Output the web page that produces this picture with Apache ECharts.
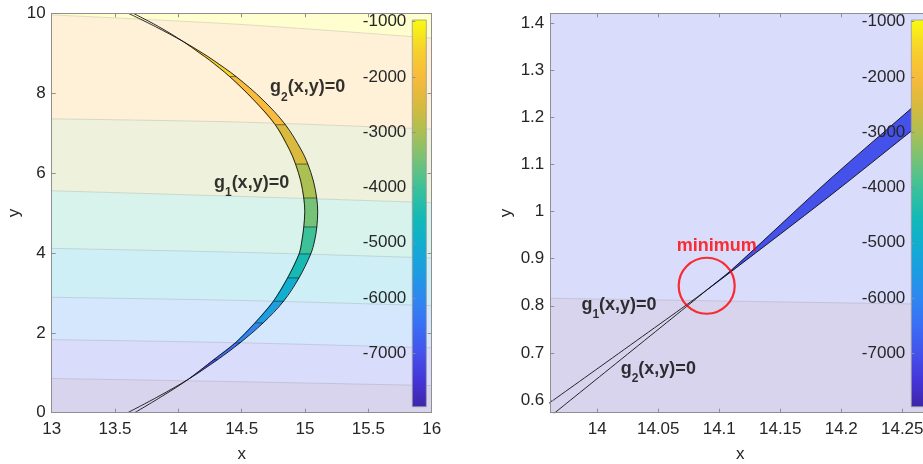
<!DOCTYPE html>
<html><head><meta charset="utf-8">
<script src="https://cdn.jsdelivr.net/npm/echarts@6/dist/echarts.min.js"></script>
<style>html,body{margin:0;padding:0;background:#fff}#c{width:923px;height:464px}</style>
</head><body><div id="c"></div>
<script>
// ---------------- DATA ----------------
// colour-bar
const cbRange = [-7966, -969];
const cbTicks = [-7000, -6000, -5000, -4000, -3000, -2000, -1000];
// left panel ticks
const leftXTicks = [13, 13.5, 14, 14.5, 15, 15.5, 16];
const leftYTicks = [0, 2, 4, 6, 8, 10];
// right panel ticks
const rightXTicks = [14, 14.05, 14.1, 14.15, 14.2, 14.25];
const rightYTicks = [0.6, 0.7, 0.8, 0.9, 1, 1.1, 1.2, 1.3, 1.4];
// left panel constraint curves, sampled along y
const curveY = [10, 9.665, 9.29, 9.0, 8.83, 8.415, 7.83, 7.21, 6.58, 6.225, 5.8, 5.375, 5.04, 4.65, 4.3, 3.975, 3.375, 2.79, 2.25, 1.75, 1.33, 0.84, 0.415, 0];
const g1X = [13.605, 13.82, 14.04, 14.192, 14.274, 14.456, 14.668, 14.845, 14.97, 15.022, 15.066, 15.092, 15.10, 15.093, 15.075, 15.045, 14.952, 14.83, 14.67, 14.487, 14.31, 14.08, 13.847, 13.600];
const g2X = [13.644, 13.845, 14.04, 14.17, 14.245, 14.405, 14.595, 14.765, 14.878, 14.925, 14.966, 14.99, 14.998, 14.99, 14.975, 14.953, 14.862, 14.75, 14.605, 14.45, 14.28, 14.08, 13.873, 13.655];
// feasible lens: divider y values and objective level of each piece
const lensDiv = [9.29, 8.415, 7.21, 6.225, 5.375, 4.65, 3.975, 3.375, 2.79, 2.25, 1.75, 1.33, 0.84];
const lensLevel = [-1500, -2000, -2500, -3000, -3500, -4000, -4500, -5000, -5500, -6000, -6500, -7000];
// left background contour lines (levels and y at bgX)
const bgX = [13, 14.5, 16];
const bgLevels = [-1000, -2000, -3000, -4000, -5000, -6000, -7000];
const bgY = [
  [9.96, 9.72, 9.38],
  [7.357, 7.275, 7.10],
  [5.557, 5.415, 5.258],
  [4.115, 4.015, 3.875],
  [2.89, 2.81, 2.68],
  [1.83, 1.75, 1.625],
  [0.857, 0.775, 0.68]
];
// right panel (zoom) curves
const rG1X = [13.955, 14.073, 14.09, 14.11, 14.19, 14.2574, 14.28];
const rG1Y = [0.583, 0.8017, 0.834, 0.873, 1.032, 1.171, 1.218];
const rG2X = [13.96, 14.073, 14.09, 14.11, 14.19, 14.2574, 14.28];
const rG2Y = [0.562, 0.798, 0.834, 0.876, 1.067, 1.219, 1.271];
const rCrossX = 14.09;
const rFillLevel = -7000;
const rBgX = [13.9615, 14.28];
const rBgY = [0.816, 0.803];
const rBgLevel = -7000;
// annotations
const leftLabels = [{sub: '2', x: 14.7234, y: 8.098}, {sub: '1', x: 14.281, y: 5.705}];
const rightLabels = [{sub: '1', x: 13.987, y: 0.798}, {sub: '2', x: 14.0192, y: 0.6622}];
const minText = 'minimum';
const minLabelPos = [14.098, 0.926];
const minCircle = [14.0897, 0.8425];

// ---------------- STYLE ----------------
const FONT = "'Liberation Sans', Arial, Helvetica, sans-serif";
const AXIS_COLOR = '#8f8f8f';
const TEXT_COLOR = '#262626';
const PARULA = [[0,'#3E26A8'],[0.07,'#4535D8'],[0.137,'#4451EA'],[0.21,'#3A6EF5'],[0.28,'#2E87F0'],[0.35,'#1C9DE2'],[0.423,'#10AED0'],[0.49,'#13BAB5'],[0.566,'#3CC199'],[0.64,'#77C276'],[0.709,'#ACBF52'],[0.78,'#D8BA3E'],[0.851,'#F8BA3C'],[0.92,'#F6D02C'],[1,'#F9FB0E']];
function hex2rgb(h){return [parseInt(h.substr(1,2),16),parseInt(h.substr(3,2),16),parseInt(h.substr(5,2),16)];}
function cmapRGB(v){
  let t=(v-cbRange[0])/(cbRange[1]-cbRange[0]); t=Math.max(0,Math.min(1,t));
  for(let i=0;i<PARULA.length-1;i++){
    const [t0,c0]=PARULA[i],[t1,c1]=PARULA[i+1];
    if(t<=t1){const f=(t-t0)/(t1-t0);const a=hex2rgb(c0),b=hex2rgb(c1);return a.map((x,k)=>x+(b[k]-x)*f);}
  }
  return hex2rgb(PARULA[PARULA.length-1][1]);
}
function rgbStr(c){return 'rgb('+c.map(x=>Math.round(x)).join(',')+')';}
function cmap(v){return rgbStr(cmapRGB(v));}
function tint(v){return rgbStr(cmapRGB(v).map(x=>255*0.8+x*0.2));}
const fmt = v => String(+(+v).toFixed(3));

function mainX(grid, min, max, ticks, pos, showLabel, name){
  return {type:'value', gridIndex:grid, position:pos, min:min, max:max, z:10,
    axisLine:{show:true, onZero:false, lineStyle:{color:AXIS_COLOR, width:1}},
    axisTick:{show:true, inside:true, length:4, lineStyle:{color:AXIS_COLOR}, customValues:ticks},
    axisLabel:{show:showLabel, customValues:ticks, formatter:fmt, color:TEXT_COLOR, fontSize:17, fontFamily:FONT, margin:8, showMinLabel:true, showMaxLabel:true},
    splitLine:{show:false},
    name: showLabel ? name : '', nameLocation:'middle', nameGap:33,
    nameTextStyle:{color:TEXT_COLOR, fontSize:17, fontFamily:FONT}};
}
function mainY(grid, min, max, ticks, pos, showLabel, name, gap){
  return {type:'value', gridIndex:grid, position:pos, min:min, max:max, z:10,
    axisLine:{show:true, onZero:false, lineStyle:{color:AXIS_COLOR, width:1}},
    axisTick:{show:true, inside:true, length:4, lineStyle:{color:AXIS_COLOR}, customValues:ticks},
    axisLabel:{show:showLabel, customValues:ticks, formatter:fmt, color:TEXT_COLOR, fontSize:17, fontFamily:FONT, margin:6, showMinLabel:true, showMaxLabel:true},
    splitLine:{show:false},
    name: showLabel ? name : '', nameLocation:'middle', nameGap:gap||30,
    nameTextStyle:{color:TEXT_COLOR, fontSize:17, fontFamily:FONT}};
}
function cbX(grid){return {type:'value', gridIndex:grid, min:0, max:1, show:false};}
function cbY(grid){
  return {type:'value', gridIndex:grid, position:'left', min:cbRange[0], max:cbRange[1], z:10,
    axisLine:{show:false},
    axisTick:{show:true, inside:true, length:3, lineStyle:{color:'#8f8f8f'}, customValues:cbTicks},
    axisLabel:{show:true, customValues:cbTicks, formatter:v=>String(v), color:TEXT_COLOR, fontSize:17, fontFamily:FONT, margin:6, showMinLabel:true, showMaxLabel:true},
    splitLine:{show:false}};
}
function cbSeries(ax){
  return {type:'custom', xAxisIndex:ax, yAxisIndex:ax, silent:true, clip:false, z:5, data:[[0, cbRange[0]]],
    renderItem:(p,api)=>{
      const a=api.coord([0,cbRange[1]]), b=api.coord([1,cbRange[0]]);
      return {type:'rect', shape:{x:a[0], y:a[1], width:b[0]-a[0], height:b[1]-a[1]},
        style:{fill:new echarts.graphic.LinearGradient(0,1,0,0, PARULA.map(([t,c])=>({offset:t,color:c}))), stroke:'#9a9a9a', lineWidth:0.8}};
    }};
}
function bandSeries(ax, xs, ys, level){
  const below = Math.max(level-1000, cbRange[0]);
  return {type:'line', xAxisIndex:ax, yAxisIndex:ax, silent:true, symbol:'none', z:1, clip:true,
    smooth:0.3,
    data: xs.map((x,i)=>[x, ys[i]]),
    lineStyle:{color:'rgba(110,110,110,0.2)', width:1},
    areaStyle:{color:tint(below), opacity:1, origin:'start'}};
}
function curveSeries(ax, pts){
  return {type:'line', xAxisIndex:ax, yAxisIndex:ax, silent:true, symbol:'none', z:4, clip:true,
    smooth:0.35, data:pts, lineStyle:{color:'#111', width:0.9}};
}
function gLabelSeries(ax, list){
  return {type:'scatter', xAxisIndex:ax, yAxisIndex:ax, silent:true, symbolSize:0, z:6,
    data: list.map(d=>({value:[d.x,d.y], label:{formatter:'{m|g}{s|'+d.sub+'}{m|(x,y)=0}'}})),
    label:{show:true, position:[0,0], align:'left', verticalAlign:'top', offset:[0,-11],
      rich:{m:{fontSize:18, fontWeight:'bold', fontFamily:FONT, color:'#000', lineHeight:22, verticalAlign:'top'},
            s:{fontSize:12, fontWeight:'bold', fontFamily:FONT, color:'#000', lineHeight:14, padding:[13,0,0,0], verticalAlign:'top'}}}};
}

const series = [];
// left background bands
bgLevels.forEach((lv,i)=>series.push(bandSeries(0, bgX, bgY[i], lv)));
// left lens pieces (fill + divider edge)
series.push({type:'custom', xAxisIndex:0, yAxisIndex:0, silent:true, clip:true, z:3,
  data: lensLevel.map((v,i)=>[i, v]),
  renderItem:(p,api)=>{
    const i=p.dataIndex, yt=lensDiv[i], yb=lensDiv[i+1];
    const A=[],B=[];
    curveY.forEach((y,k)=>{ if(y<=yt+1e-9 && y>=yb-1e-9){A.push(api.coord([g1X[k],y])); B.push(api.coord([g2X[k],y]));}});
    const children=[{type:'polygon', shape:{points:A.concat(B.slice().reverse())},
      style:{fill:cmap(lensLevel[i]), stroke:cmap(lensLevel[i]), lineWidth:0.4}}];
    if(i>0) children.push({type:'line', shape:{x1:A[0][0], y1:A[0][1], x2:B[0][0], y2:B[0][1]},
      style:{stroke:'rgba(25,25,25,0.8)', lineWidth:0.7}});
    return {type:'group', children:children};
  }});
series.push(curveSeries(0, curveY.map((y,k)=>[g1X[k],y])));
series.push(curveSeries(0, curveY.map((y,k)=>[g2X[k],y])));
series.push(gLabelSeries(0, leftLabels));
series.push(cbSeries(2));
// right panel
series.push(bandSeries(3, rBgX, rBgY, rBgLevel));
series.push({type:'custom', xAxisIndex:3, yAxisIndex:3, silent:true, clip:true, z:3, data:[[rCrossX, rFillLevel]],
  renderItem:(p,api)=>{
    const A=[],B=[];
    rG1X.forEach((x,k)=>{ if(x>=rCrossX-1e-9) A.push(api.coord([x,rG1Y[k]])); });
    rG2X.forEach((x,k)=>{ if(x>=rCrossX-1e-9) B.push(api.coord([x,rG2Y[k]])); });
    return {type:'polygon', shape:{points:A.concat(B.reverse())}, style:{fill:cmap(rFillLevel), stroke:cmap(rFillLevel), lineWidth:0.4}};
  }});
series.push(curveSeries(3, rG1X.map((x,k)=>[x,rG1Y[k]])));
series.push(curveSeries(3, rG2X.map((x,k)=>[x,rG2Y[k]])));
series.push(gLabelSeries(3, rightLabels));
series.push({type:'scatter', xAxisIndex:3, yAxisIndex:3, silent:true, z:7, symbol:'circle', symbolSize:56,
  data:[minCircle], itemStyle:{color:'rgba(0,0,0,0)', borderColor:'#ff0000', borderWidth:2.2}});
series.push({type:'scatter', xAxisIndex:3, yAxisIndex:3, silent:true, z:7, symbolSize:0,
  data:[{value:minLabelPos}],
  label:{show:true, position:[0,0], align:'center', verticalAlign:'middle', formatter:minText,
    color:'#ff0000', fontSize:18, fontWeight:'bold', fontFamily:FONT}});
series.push(cbSeries(5));

const gridBase = {containLabel:false, outerBoundsMode:'none'};
const option = {
  animation:false,
  backgroundColor:'#ffffff',
  grid:[
    Object.assign({left:51.7, top:13.3, width:380, height:399.4, show:true, backgroundColor:tint(bgLevels[0]), borderWidth:0}, gridBase),
    Object.assign({left:412.3, top:20, width:14, height:386.7}, gridBase),
    Object.assign({left:550.3, top:13.3, width:380, height:399.4, show:true, backgroundColor:tint(rBgLevel), borderWidth:0}, gridBase),
    Object.assign({left:911.3, top:20, width:14, height:386.7}, gridBase)
  ],
  xAxis:[
    mainX(0, 13, 16, leftXTicks, 'bottom', true, 'x'),
    mainX(0, 13, 16, leftXTicks, 'top', false, ''),
    cbX(1),
    mainX(2, 13.9615, 14.273, rightXTicks, 'bottom', true, 'x'),
    mainX(2, 13.9615, 14.273, rightXTicks, 'top', false, ''),
    cbX(3)
  ],
  yAxis:[
    mainY(0, 0, 10, leftYTicks, 'left', true, 'y', 27),
    mainY(0, 0, 10, leftYTicks, 'right', false, ''),
    cbY(1),
    mainY(2, 0.573, 1.421, rightYTicks, 'left', true, 'y', 35),
    mainY(2, 0.573, 1.421, rightYTicks, 'right', false, ''),
    cbY(3)
  ],
  series:series
};
const chart = echarts.init(document.getElementById('c'), null, {renderer:'canvas'});
chart.setOption(option);
</script></body></html>
